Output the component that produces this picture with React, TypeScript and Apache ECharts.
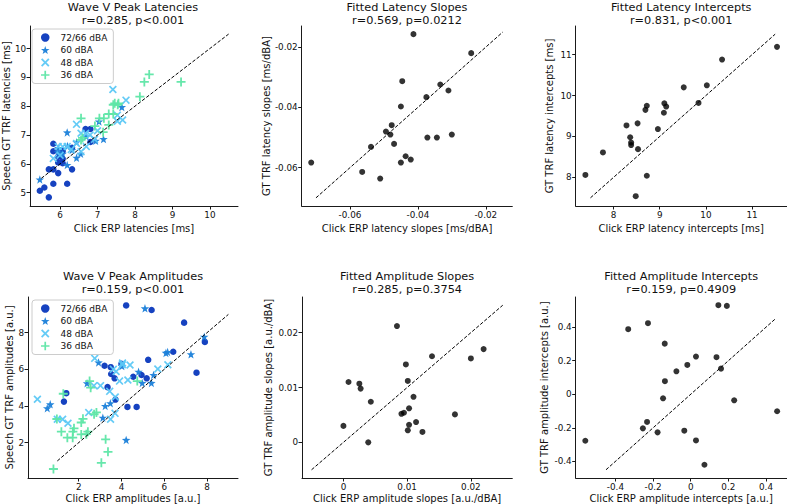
import React, { useEffect, useRef } from 'react';
import * as echarts from 'echarts';

const FONT = 'DejaVu Sans';
const TXT = '#111';

// ---------- Panel 1: Wave V peak latencies ----------
const lat72: number[][] = [
  [5.46, 5.07], [5.58, 5.18], [5.7, 4.84], [5.82, 5.31], [6.19, 5.31], [5.7, 5.81], [5.82, 5.81],
  [5.95, 5.68], [6.32, 5.81], [5.82, 6.7], [5.82, 6.44], [5.95, 6.25], [6.07, 6.18], [6.07, 6.02],
  [6.32, 6.56], [6.68, 7.21], [6.81, 7.21], [6.81, 6.76], [5.95, 6.05], [6.07, 6.45],
];
const lat60: number[][] = [
  [5.46, 5.46], [6.19, 7.09], [6.19, 5.96], [6.44, 6.21], [7.04, 7.47], [7.16, 6.86], [7.65, 7.97],
  [5.95, 6.55], [6.07, 6.35], [6.32, 6.48], [6.55, 6.35], [6.44, 6.75], [6.7, 6.95], [6.95, 6.8],
  [5.95, 6.4], [6.2, 6.62],
];
const lat48: number[][] = [
  [6.44, 7.37], [6.56, 7.06], [6.68, 7.06], [6.44, 6.71], [6.56, 6.42], [5.95, 6.6], [6.07, 6.6],
  [6.19, 6.6], [5.82, 6.19], [7.67, 7.52], [7.41, 8.58], [7.76, 8.21], [7.53, 7.69], [7.53, 7.48],
  [6.8, 7.0], [6.92, 6.85], [6.3, 6.5], [6.0, 6.3], [6.7, 6.6], [7.0, 7.15],
];
const lat36: number[][] = [
  [6.56, 7.58], [6.93, 7.31], [7.05, 7.58], [7.17, 7.58], [7.3, 7.73], [7.42, 7.73], [7.42, 8.05],
  [7.54, 8.05], [8.38, 9.1], [8.25, 8.84], [9.23, 8.84], [8.13, 8.33], [7.46, 8.1], [7.56, 8.1],
  [6.56, 6.83], [7.15, 7.1], [7.3, 7.35], [6.6, 6.9],
];

// ---------- Panel 2: fitted latency slopes ----------
const latSlopes: number[][] = [
  [-0.0714, -0.0583], [-0.0564, -0.0614], [-0.0511, -0.0636], [-0.0538, -0.0531], [-0.0494, -0.048],
  [-0.0477, -0.0459], [-0.0481, -0.049], [-0.047, -0.0521], [-0.045, -0.0397], [-0.0446, -0.0313],
  [-0.045, -0.0583], [-0.0436, -0.0562], [-0.0421, -0.0573], [-0.0413, -0.0157], [-0.0375, -0.0366],
  [-0.0372, -0.05], [-0.0344, -0.05], [-0.0334, -0.0324], [-0.031, -0.0344], [-0.03, -0.049],
  [-0.0243, -0.022],
];

// ---------- Panel 3: fitted latency intercepts ----------
const latIntercepts: number[][] = [
  [7.39, 8.06], [7.77, 8.61], [8.28, 9.27], [8.36, 8.98], [8.38, 8.85], [8.38, 8.79], [8.52, 9.32],
  [8.53, 8.69], [8.69, 9.65], [8.72, 9.75], [8.72, 8.04], [8.48, 7.54], [8.96, 9.18], [9.1, 9.81],
  [9.09, 9.58], [9.14, 9.73], [9.52, 10.2], [9.84, 9.82], [10.02, 10.25], [10.35, 10.88], [11.54, 11.19],
];

// ---------- Panel 4: Wave V peak amplitudes ----------
const amp72: number[][] = [
  [4.22, 9.49], [5.41, 9.24], [6.93, 8.55], [7.9, 7.5], [6.42, 6.96], [5.25, 6.52], [7.51, 5.82],
  [3.21, 6.2], [3.5, 6.12], [3.52, 5.75], [3.68, 5.51], [4.0, 6.3], [4.94, 5.69], [5.18, 5.51],
  [4.55, 5.6], [3.35, 5.03], [3.72, 4.35], [1.31, 4.24], [1.42, 4.7], [4.28, 3.95], [4.71, 3.95],
];
const amp60: number[][] = [
  [5.1, 9.33], [7.87, 7.78], [7.25, 6.82], [6.08, 6.9], [6.16, 6.95], [5.5, 5.69], [5.4, 5.26],
  [4.97, 5.26], [4.8, 5.87], [4.02, 6.18], [2.93, 6.38], [2.39, 5.24], [3.48, 4.15], [3.24, 4.0],
  [3.13, 3.36], [0.67, 4.09], [0.53, 3.88], [4.22, 2.15],
];
const amp48: number[][] = [
  [0.07, 4.37], [2.75, 6.6], [4.05, 6.35], [4.4, 6.24], [6.17, 6.25], [5.7, 6.02], [3.62, 6.0],
  [3.75, 5.88], [3.91, 5.36], [4.3, 5.42], [2.71, 5.11], [3.02, 5.11], [3.45, 4.8], [3.71, 4.49],
  [2.47, 3.64], [3.49, 3.28], [3.7, 3.6], [1.0, 3.28], [1.25, 3.28], [1.5, 3.06], [4.04, 6.25],
];
const amp36: number[][] = [
  [1.28, 4.67], [2.51, 5.36], [2.56, 5.0], [2.72, 3.55], [2.83, 3.65], [4.74, 5.36], [0.98, 3.29],
  [2.12, 3.1], [2.2, 3.3], [1.19, 2.6], [1.47, 2.27], [1.72, 2.27], [1.78, 2.78], [1.73, 2.6],
  [2.12, 2.45], [2.36, 2.46], [2.43, 2.6], [3.26, 2.18], [3.37, 1.5], [3.06, 0.9], [0.82, 0.56],
];

// ---------- Panel 5: fitted amplitude slopes ----------
const ampSlopes: number[][] = [
  [0.0, 0.003], [0.0008, 0.011], [0.0025, 0.0107], [0.0027, 0.0098], [0.0039, 0.0], [0.0043, 0.0074],
  [0.0084, 0.0212], [0.0091, 0.0052], [0.0095, 0.0054], [0.0098, 0.0142], [0.0101, 0.0112],
  [0.0101, 0.0022], [0.0103, 0.0032], [0.0103, 0.0062], [0.011, 0.0083], [0.0114, 0.0037],
  [0.0124, 0.0019], [0.0139, 0.0157], [0.0175, 0.0051], [0.02, 0.0153], [0.022, 0.017],
];

// ---------- Panel 6: fitted amplitude intercepts ----------
const ampIntercepts: number[][] = [
  [-0.56, -0.277], [-0.332, 0.388], [-0.227, 0.424], [-0.138, 0.302], [-0.232, -0.165], [-0.254, -0.203],
  [-0.176, -0.227], [-0.147, -0.024], [-0.137, 0.078], [-0.076, 0.137], [-0.018, 0.175], [-0.034, -0.217],
  [0.028, 0.225], [0.028, -0.275], [0.073, -0.42], [0.137, 0.221], [0.147, 0.531], [0.161, 0.153],
  [0.192, 0.527], [0.231, -0.036], [0.459, -0.101],
];

// ---------- Labels, ticks, ranges ----------
const titles = [
  'Wave V Peak Latencies\nr=0.285, p<0.001',
  'Fitted Latency Slopes\nr=0.569, p=0.0212',
  'Fitted Latency Intercepts\nr=0.831, p<0.001',
  'Wave V Peak Amplitudes\nr=0.159, p<0.001',
  'Fitted Amplitude Slopes\nr=0.285, p=0.3754',
  'Fitted Amplitude Intercepts\nr=0.159, p=0.4909',
];
const xNames = [
  'Click ERP latencies [ms]', 'Click ERP latency slopes [ms/dBA]', 'Click ERP latency intercepts [ms]',
  'Click ERP amplitudes [a.u.]', 'Click ERP amplitude slopes [a.u./dBA]', 'Click ERP amplitude intercepts [a.u.]',
];
const yNames = [
  'Speech GT TRF latencies [ms]', 'GT TRF latency slopes [ms/dBA]', 'GT TRF latency intercepts [ms]',
  'Speech GT TRF amplitudes [a.u.]', 'GT TRF amplitude slopes [a.u./dBA]', 'GT TRF amplitude intercepts [a.u.]',
];
const xTicks = [
  [6, 7, 8, 9, 10], [-0.06, -0.04, -0.02], [8, 9, 10, 11],
  [2, 4, 6, 8], [0, 0.01, 0.02], [-0.4, -0.2, 0, 0.2, 0.4],
];
const yTicks = [
  [5, 6, 7, 8, 9, 10], [-0.06, -0.04, -0.02], [8, 9, 10, 11],
  [2, 4, 6, 8], [0, 0.01, 0.02], [-0.4, -0.2, 0, 0.2, 0.4],
];
const xRanges = [[5.2, 10.75], [-0.0742, -0.0122], [7.18, 11.75], [-0.37, 9.45], [-0.0065, 0.0265], [-0.611, 0.51]];
const yRanges = [[4.54, 10.78], [-0.0727, -0.013], [7.3, 11.7], [0.07, 9.95], [-0.0065, 0.0265], [-0.499, 0.58]];
const refLines = [[5.5, 10.5], [-0.07, -0.015], [7.5, 11.5], [1, 9], [-0.005, 0.025], [-0.45, 0.45]];
const levelNames = ['72/66 dBA', '60 dBA', '48 dBA', '36 dBA'];

// ---------- Layout / style ----------
const gridBoxes = [
  [28, 26, 210, 180], [301.7, 26, 210.6, 180], [575.7, 26, 211, 180],
  [28, 297, 210, 181], [302, 297, 210.3, 181], [575.7, 297, 211, 181],
];
const yNameGaps = [15, 28, 21, 14, 29, 26];
const xNameGaps = [17, 17, 17, 15, 15, 15];

const STAR = 'path://M0,-10L2.35,-3.24L9.51,-3.09L3.8,1.24L5.88,8.09L0,4L-5.88,8.09L-3.8,1.24L-9.51,-3.09L-2.35,-3.24Z';
const XMARK = 'path://M-10,-7L-7,-10L0,-3L7,-10L10,-7L3,0L10,7L7,10L0,3L-7,10L-10,7L-3,0Z';
const PLUS = 'path://M-2,-10L2,-10L2,-2L10,-2L10,2L2,2L2,10L-2,10L-2,2L-10,2L-10,-2L-2,-2Z';
const levelSymbols = ['circle', STAR, XMARK, PLUS];
const levelSizes = [6.5, 8.5, 8, 9];
const levelColors = ['#0a38bd', '#1a80d9', '#5cc8f6', '#5ee6a6'];

function fmt(v: number) {
  return String(Math.round(v * 1000) / 1000);
}

export default function App() {
  const ref = useRef<HTMLDivElement>(null);
  useEffect(() => {
    if (!ref.current) return;
    const chart = echarts.init(ref.current, null, { renderer: 'svg' });

    const grid = gridBoxes.map(([l, t, w, h]) => ({ left: l, top: t, width: w, height: h, containLabel: false }));
    const axisCommon = (ticks: number[], range: number[]) => ({
      type: 'value',
      min: range[0],
      max: range[1],
      splitLine: { show: false },
      axisLine: { show: true, onZero: false, lineStyle: { color: '#1a1a1a', width: 1 } },
      axisTick: { show: true, customValues: ticks, length: 3.5, lineStyle: { color: '#1a1a1a', width: 1 } },
      axisLabel: {
        customValues: ticks,
        formatter: (v: number) => fmt(v),
        fontFamily: FONT,
        fontSize: 8.8,
        color: TXT,
        margin: 4,
      },
      nameLocation: 'middle',
      nameTextStyle: { fontFamily: FONT, fontSize: 10, color: TXT },
    });
    const xAxis = xTicks.map((t, i) => ({
      ...axisCommon(t, xRanges[i]),
      gridIndex: i,
      name: xNames[i],
      nameGap: xNameGaps[i],
    }));
    const yAxis = yTicks.map((t, i) => ({
      ...axisCommon(t, yRanges[i]),
      gridIndex: i,
      name: yNames[i],
      nameGap: yNameGaps[i],
    }));

    const title = titles.map((text, i) => {
      const [l, , w] = gridBoxes[i];
      return {
        text,
        left: l + w / 2,
        top: i < 3 ? 0.5 : 269.5,
        textAlign: 'center',
        padding: 0,
        textStyle: { fontFamily: FONT, fontSize: 11.3, fontWeight: 'normal', color: TXT, lineHeight: 13 },
      };
    });

    const series: any[] = [];
    const groupPanels: [number, number[][][]][] = [
      [0, [lat72, lat60, lat48, lat36]],
      [3, [amp72, amp60, amp48, amp36]],
    ];
    groupPanels.forEach(([p, groups]) => {
      groups.forEach((data, g) => {
        series.push({
          type: 'scatter',
          name: levelNames[g],
          xAxisIndex: p,
          yAxisIndex: p,
          data,
          symbol: levelSymbols[g],
          symbolSize: levelSizes[g],
          itemStyle: { color: levelColors[g], opacity: 0.95 },
          silent: true,
          z: 2,
        });
      });
    });
    const blackPanels: [number, number[][]][] = [
      [1, latSlopes], [2, latIntercepts], [4, ampSlopes], [5, ampIntercepts],
    ];
    blackPanels.forEach(([p, data]) => {
      series.push({
        type: 'scatter',
        name: 'subjects',
        xAxisIndex: p,
        yAxisIndex: p,
        data,
        symbol: 'circle',
        symbolSize: 6,
        itemStyle: { color: '#000' },
        silent: true,
        z: 2,
      });
    });
    refLines.forEach(([a, b], p) => {
      series.push({
        type: 'line',
        name: 'identity',
        xAxisIndex: p,
        yAxisIndex: p,
        data: [[a, a], [b, b]],
        showSymbol: false,
        symbol: 'none',
        lineStyle: { color: '#000', width: 1, type: [3.5, 1.8] },
        silent: true,
        z: 3,
      });
    });

    const legendData = levelNames.map((n, i) => ({ name: n, icon: levelSymbols[i] }));
    const legendCommon = {
      orient: 'vertical',
      data: legendData,
      left: 32,
      itemWidth: 8.5,
      itemHeight: 8.5,
      itemGap: 3.5,
      padding: [4, 6, 4, 9],
      backgroundColor: '#fff',
      borderColor: '#cccccc',
      borderWidth: 1,
      borderRadius: 3,
      selectedMode: false,
      textStyle: { fontFamily: FONT, fontSize: 9, color: TXT, padding: [0, 0, 0, 6] },
    };

    chart.setOption({
      animation: false,
      backgroundColor: '#fff',
      textStyle: { fontFamily: FONT },
      title,
      grid,
      xAxis,
      yAxis,
      legend: [
        { ...legendCommon, top: 29 },
        { ...legendCommon, top: 300 },
      ],
      series,
    });
    return () => chart.dispose();
  }, []);

  return (
    <div
      ref={ref}
      style={{ position: 'fixed', left: 0, top: 0, width: 787, height: 504, background: '#fff' }}
    />
  );
}
